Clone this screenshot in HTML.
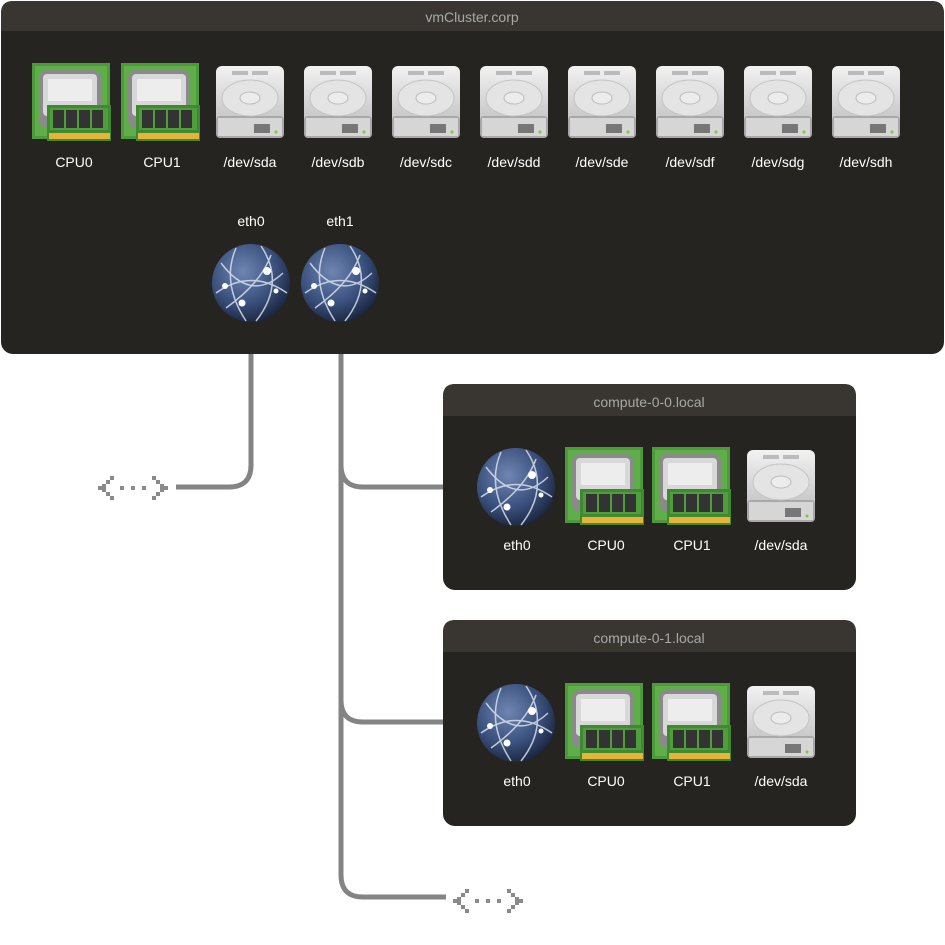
<!DOCTYPE html>
<html><head><meta charset="utf-8"><style>
html,body{margin:0;padding:0;background:#fff;width:945px;height:945px;overflow:hidden}
text{font-family:"Liberation Sans",sans-serif}
</style></head><body>
<svg width="945" height="945" viewBox="0 0 945 945" xmlns="http://www.w3.org/2000/svg">
<defs>
<radialGradient id="gg" cx="0.4" cy="0.35" r="0.7"><stop offset="0" stop-color="#6f86b2"/><stop offset="0.6" stop-color="#3a507c"/><stop offset="1" stop-color="#18223a"/></radialGradient>
<linearGradient id="dg" x1="0" y1="0" x2="0" y2="1"><stop offset="0" stop-color="#f2f2f2"/><stop offset="1" stop-color="#b8b8b8"/></linearGradient>
<symbol id="cpu" viewBox="0 0 80 80">
<rect x="1" y="2" width="78" height="76" fill="#4d9a3c"/>
<rect x="4" y="5" width="72" height="70" fill="#5fae4a"/>
<rect x="8" y="9" width="62" height="58" rx="8" fill="#8a8a8a"/>
<rect x="12" y="13" width="54" height="42" rx="4" fill="#d8d8d8"/>
<rect x="17" y="18" width="44" height="22" fill="#ededed"/>
<rect x="16" y="44" width="64" height="36" fill="#3f8a30"/>
<rect x="19" y="47" width="58" height="22" fill="#4f9d3d"/>
<rect x="22" y="49" width="11" height="18" fill="#333"/><rect x="35" y="49" width="11" height="18" fill="#333"/><rect x="48" y="49" width="11" height="18" fill="#333"/><rect x="61" y="49" width="11" height="18" fill="#333"/>
<rect x="18" y="72" width="61" height="6" fill="#e9b33a"/>
</symbol>
<symbol id="disk" viewBox="0 0 80 80">
<rect x="6" y="4" width="68" height="72" rx="6" fill="url(#dg)"/>
<rect x="6" y="54" width="68" height="22" rx="4" fill="#a8a8a8"/>
<rect x="8" y="56" width="64" height="18" fill="#d6d6d6"/>
<ellipse cx="40" cy="36" rx="28" ry="18" fill="#e4e4e4" stroke="#c4c4c4"/>
<ellipse cx="40" cy="36" rx="10" ry="6" fill="#ececec" stroke="#bbb"/>
<rect x="22" y="9" width="16" height="4" fill="#bbb"/><rect x="42" y="9" width="16" height="4" fill="#bbb"/>
<rect x="44" y="62" width="16" height="9" fill="#777"/>
<circle cx="66" cy="70" r="1.5" fill="#7c3"/>
</symbol>
<symbol id="globe" viewBox="0 0 80 80">
<circle cx="40" cy="40" r="39" fill="url(#gg)"/>
<g fill="none" stroke="#d8e0ee" stroke-width="1.5" opacity="0.85">
<path d="M10 20 Q40 60 72 30"/><path d="M5 50 Q40 25 76 50"/><path d="M25 5 Q10 40 35 78"/><path d="M50 3 Q75 40 45 78"/><path d="M15 65 Q50 40 60 12"/>
</g>
<circle cx="56" cy="28" r="4" fill="#fff"/><circle cx="14" cy="43" r="3" fill="#fff"/><circle cx="31" cy="60" r="3.5" fill="#fff"/><circle cx="65" cy="48" r="2.5" fill="#fff"/>
</symbol>
<g id="arr" fill="#8a8a8a">
<rect x="17" y="-12" width="4" height="4"/><rect x="13" y="-8" width="4" height="4"/><rect x="9" y="-4" width="4" height="4"/><rect x="5" y="-2" width="4" height="4"/><rect x="9" y="0" width="4" height="4"/><rect x="13" y="4" width="4" height="4"/><rect x="17" y="8" width="4" height="4"/>
<rect x="27" y="-2" width="4" height="4"/><rect x="38" y="-2" width="4" height="4"/><rect x="49" y="-2" width="4" height="4"/>
<rect x="59" y="-12" width="4" height="4"/><rect x="63" y="-8" width="4" height="4"/><rect x="67" y="-4" width="4" height="4"/><rect x="71" y="-2" width="4" height="4"/><rect x="67" y="0" width="4" height="4"/><rect x="63" y="4" width="4" height="4"/><rect x="59" y="8" width="4" height="4"/>
</g>
</defs>
<g fill="none" stroke="#848484" stroke-width="5">
<path d="M251 354 V465 Q251 487 229 487 H176"/>
<path d="M341 354 V875 Q341 897 363 897 H446"/>
<path d="M341 465 Q341 487 363 487 H444"/>
<path d="M341 700 Q341 722 363 722 H444"/>
</g>
<use href="#arr" x="93" y="488"/>
<use href="#arr" x="448" y="901"/>
<rect x="1" y="1" width="943" height="353" rx="12" fill="#262420"/>
<path d="M1 31 V13 Q1 1 13 1 H932 Q944 1 944 13 V31 Z" fill="#393632"/>
<text x="472" y="22" font-size="14" fill="#a8a8a8" text-anchor="middle">vmCluster.corp</text>
<use href="#cpu" x="31" y="61" width="80" height="80"/>
<use href="#cpu" x="120" y="61" width="80" height="80"/>
<g>
<use href="#disk" x="210" y="62" width="80" height="80"/>
<use href="#disk" x="298" y="62" width="80" height="80"/>
<use href="#disk" x="386" y="62" width="80" height="80"/>
<use href="#disk" x="474" y="62" width="80" height="80"/>
<use href="#disk" x="562" y="62" width="80" height="80"/>
<use href="#disk" x="650" y="62" width="80" height="80"/>
<use href="#disk" x="738" y="62" width="80" height="80"/>
<use href="#disk" x="826" y="62" width="80" height="80"/>
</g>
<g font-size="14" fill="#fff" text-anchor="middle">
<text x="74" y="167">CPU0</text><text x="162" y="167">CPU1</text>
<text x="250" y="167">/dev/sda</text><text x="338" y="167">/dev/sdb</text><text x="426" y="167">/dev/sdc</text><text x="514" y="167">/dev/sdd</text><text x="602" y="167">/dev/sde</text><text x="690" y="167">/dev/sdf</text><text x="778" y="167">/dev/sdg</text><text x="866" y="167">/dev/sdh</text>
<text x="251" y="226">eth0</text><text x="340" y="226">eth1</text>
</g>
<use href="#globe" x="211" y="243" width="80" height="80"/>
<use href="#globe" x="300" y="243" width="80" height="80"/>
<g>
<rect x="443" y="384" width="413" height="206" rx="12" fill="#262420"/>
<path d="M443 416 V396 Q443 384 455 384 H844 Q856 384 856 396 V416 Z" fill="#393632"/>
<text x="649" y="407" font-size="14" fill="#a8a8a8" text-anchor="middle">compute-0-0.local</text>
<use href="#globe" x="476" y="447" width="80" height="80"/>
<use href="#cpu" x="564" y="445" width="80" height="80"/>
<use href="#cpu" x="651" y="445" width="80" height="80"/>
<use href="#disk" x="741" y="446" width="80" height="80"/>
<g font-size="14" fill="#fff" text-anchor="middle"><text x="517" y="550">eth0</text><text x="606" y="550">CPU0</text><text x="692" y="550">CPU1</text><text x="781" y="550">/dev/sda</text></g>
</g>
<g transform="translate(0,236)">
<rect x="443" y="384" width="413" height="206" rx="12" fill="#262420"/>
<path d="M443 416 V396 Q443 384 455 384 H844 Q856 384 856 396 V416 Z" fill="#393632"/>
<text x="649" y="407" font-size="14" fill="#a8a8a8" text-anchor="middle">compute-0-1.local</text>
<use href="#globe" x="476" y="447" width="80" height="80"/>
<use href="#cpu" x="564" y="445" width="80" height="80"/>
<use href="#cpu" x="651" y="445" width="80" height="80"/>
<use href="#disk" x="741" y="446" width="80" height="80"/>
<g font-size="14" fill="#fff" text-anchor="middle"><text x="517" y="550">eth0</text><text x="606" y="550">CPU0</text><text x="692" y="550">CPU1</text><text x="781" y="550">/dev/sda</text></g>
</g>
</svg>
</body></html>
